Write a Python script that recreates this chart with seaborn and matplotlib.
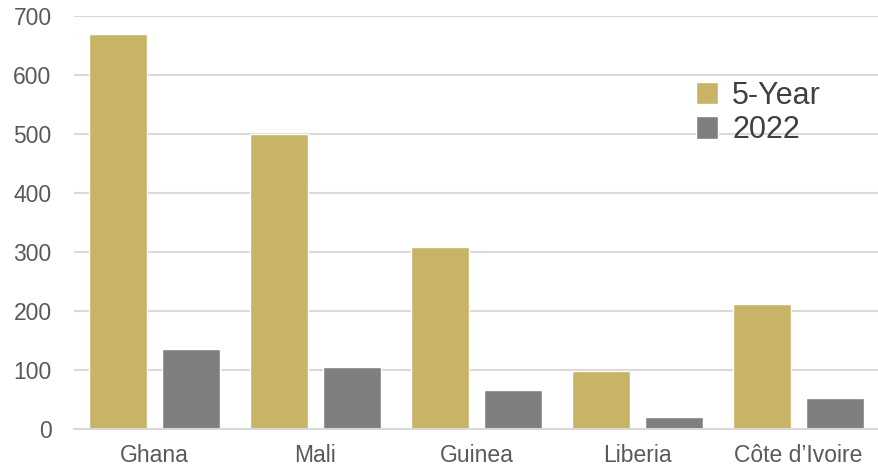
import numpy as np
import pandas as pd
import matplotlib
matplotlib.use('Agg')
import matplotlib.pyplot as plt
import seaborn as sns

countries = ['Ghana', 'Mali', 'Guinea', 'Liberia', 'Côte d’Ivoire']
five_year = [669, 500, 308, 98, 212]
y2022 = [135, 105, 66, 20, 52]
series = ['5-Year', '2022']
colors = ['#C9B367', '#7F7F7F']

df = pd.DataFrame({
    'country': countries * 2,
    'value': five_year + y2022,
    'series': [series[0]] * len(countries) + [series[1]] * len(countries),
})

sns.set_style('white')
plt.rcParams['font.family'] = ['Liberation Sans', 'DejaVu Sans']

fig = plt.figure(figsize=(8.79, 4.72), dpi=100)
ax = fig.add_axes([0.084, 0.091, 0.916, 0.875])

sns.barplot(data=df, x='country', y='value', hue='series',
            palette=colors, width=0.91, gap=0.21, saturation=1,
            ax=ax, legend=True)

ax.set_ylim(0, 700)
ax.set_yticks(np.arange(0, 701, 100))
ax.set_xlim(-0.5, 4.5)
ax.grid(axis='y', color='#D9D9D9', linewidth=1.5)
ax.set_axisbelow(True)
for s in ['top', 'right', 'left']:
    ax.spines[s].set_visible(False)
ax.spines['bottom'].set_color('#D9D9D9')
ax.spines['bottom'].set_linewidth(1.5)
ax.tick_params(axis='both', length=0, labelsize=16.5, colors='#595959')
ax.tick_params(axis='x', pad=11)
ax.tick_params(axis='y', pad=16)
ax.set_xlabel('')
ax.set_ylabel('')

ax.legend(loc='upper left', bbox_to_anchor=(0.738, 0.91), frameon=False,
          fontsize=22, handlelength=0.75, handleheight=0.75,
          handletextpad=0.45, labelspacing=0.15,
          labelcolor='#404040')

fig.savefig('out.png', dpi=100)
